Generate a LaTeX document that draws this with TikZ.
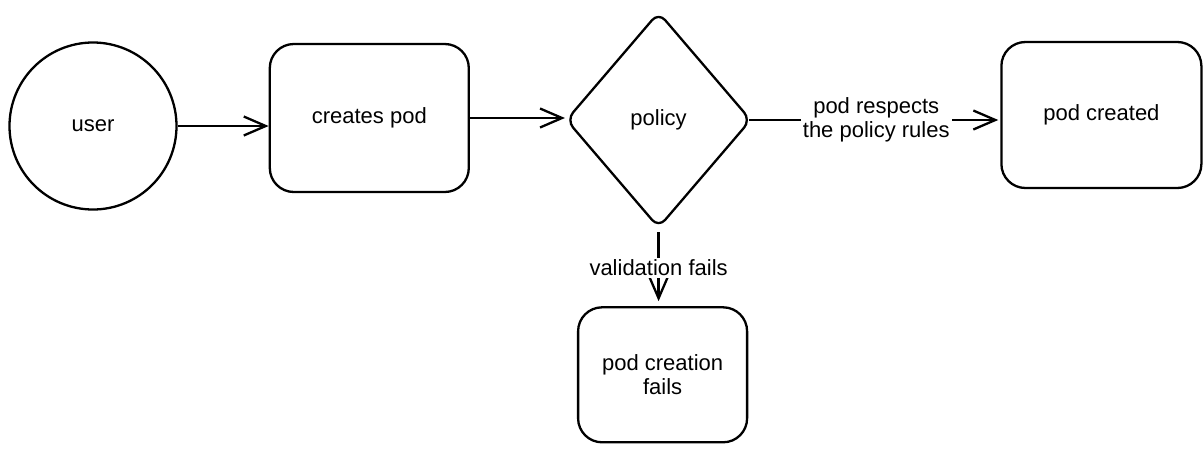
\documentclass[tikz,border=0pt]{standalone}
\usepackage{fontspec}
\setmainfont{Liberation Sans}
\usetikzlibrary{shapes.geometric, arrows.meta, positioning}
\tikzset{every picture/.style={font=\fontsize{22}{24}\selectfont}}

\begin{document}
\begin{tikzpicture}[
  x=1pt, y=1pt,
  box/.style={draw, line width=2.3pt, rounded corners=24pt, align=center},
  arrow/.style={-{Straight Barb[length=22pt, width=19pt]}, line width=2.3pt},
  lbl/.style={fill=white, align=center, inner sep=2pt}
]
  \useasboundingbox (0,0) rectangle (1203,-448);

  % Start: the user
  \node[draw, circle, line width=2.3pt, minimum size=167pt] (user) at (93,-126) {user};

  % Pod creation and policy check
  \node[box, minimum width=199pt, minimum height=148pt, right=91pt of user, yshift=8pt]
    (create) {creates pod};
  \node[draw, diamond, line width=2.3pt, rounded corners=10pt, minimum width=185pt, minimum height=216pt,
    right=95pt of create, yshift=-2pt] (policy) {policy};

  \draw[arrow] (user.east) -- (user.east -| create.west);
  \draw[arrow] (create.east) -- (create.east -| policy.west);

  % Outcomes
  \node[box, minimum width=200pt, minimum height=146pt, right=248pt of policy, yshift=5pt]
    (done) {pod created};
  \node[box, minimum width=169pt, minimum height=135pt, below=77pt of policy, xshift=4pt]
    (fail) {pod creation\\fails};

  \draw[arrow, shorten <=-3pt, shorten >=2pt] (policy.east) -- node[lbl] {pod respects\\the policy rules} (policy.east -| done.west);
  \draw[arrow, shorten <=3pt, shorten >=5pt] (policy.south) -- node[lbl] {validation fails} (policy.south |- fail.north);

\end{tikzpicture}
\end{document}
